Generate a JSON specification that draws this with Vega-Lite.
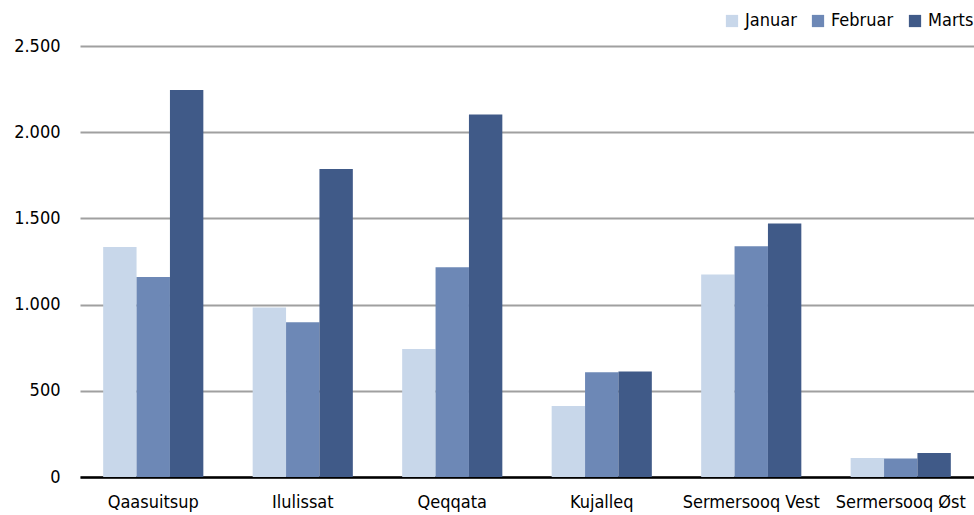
{
  "$schema": "https://vega.github.io/schema/vega-lite/v6.json",
  "autosize": {"type": "none"},
  "padding": {"left": 80, "top": 46, "right": 0, "bottom": 38},
  "width": 894,
  "height": 431,
  "background": "white",
  "config": {
    "view": {"stroke": null},
    "font": "DejaVu Sans Condensed, Roboto, sans-serif",
    "axis": {"labelFont": "DejaVu Sans Condensed, Roboto, sans-serif", "labelFontSize": 18, "labelColor": "#000000"},
    "legend": {"labelFont": "DejaVu Sans Condensed, Roboto, sans-serif", "labelFontSize": 18, "labelColor": "#000000"}
  },
  "data": {
    "values": [
      {"region": "Qaasuitsup", "month": "Januar", "value": 1334},
      {"region": "Qaasuitsup", "month": "Februar", "value": 1160},
      {"region": "Qaasuitsup", "month": "Marts", "value": 2245},
      {"region": "Ilulissat", "month": "Januar", "value": 983},
      {"region": "Ilulissat", "month": "Februar", "value": 897},
      {"region": "Ilulissat", "month": "Marts", "value": 1786},
      {"region": "Qeqqata", "month": "Januar", "value": 742},
      {"region": "Qeqqata", "month": "Februar", "value": 1216},
      {"region": "Qeqqata", "month": "Marts", "value": 2103},
      {"region": "Kujalleq", "month": "Januar", "value": 412},
      {"region": "Kujalleq", "month": "Februar", "value": 607},
      {"region": "Kujalleq", "month": "Marts", "value": 612},
      {"region": "Sermersooq Vest", "month": "Januar", "value": 1175},
      {"region": "Sermersooq Vest", "month": "Februar", "value": 1338},
      {"region": "Sermersooq Vest", "month": "Marts", "value": 1471},
      {"region": "Sermersooq Øst", "month": "Januar", "value": 110},
      {"region": "Sermersooq Øst", "month": "Februar", "value": 107},
      {"region": "Sermersooq Øst", "month": "Marts", "value": 139}
    ]
  },
  "mark": {"type": "bar"},
  "encoding": {
    "x": {
      "field": "region",
      "type": "nominal",
      "sort": null,
      "title": null,
      "scale": {"paddingInner": 0.33, "paddingOuter": 0.155},
      "axis": {"labelAngle": 0, "ticks": false, "domainColor": "#000000", "domainWidth": 2.5, "labelPadding": 16, "grid": false}
    },
    "xOffset": {"field": "month", "type": "nominal", "sort": ["Januar", "Februar", "Marts"], "scale": {"paddingInner": 0, "paddingOuter": 0}},
    "y": {
      "field": "value",
      "type": "quantitative",
      "title": null,
      "scale": {"domain": [0, 2500], "nice": false},
      "axis": {
        "values": [0, 500, 1000, 1500, 2000, 2500],
        "format": ",d",
        "labelExpr": "replace(datum.label, ',', '.')",
        "ticks": false,
        "domain": false,
        "labelPadding": 20,
        "gridColor": "#a0a0a0",
        "gridWidth": 2,
        "zindex": 0
      }
    },
    "color": {
      "field": "month",
      "type": "nominal",
      "sort": ["Januar", "Februar", "Marts"],
      "scale": {"domain": ["Januar", "Februar", "Marts"], "range": ["#C8D7EA", "#6D88B6", "#405A88"]},
      "legend": {
        "title": null,
        "orient": "none",
        "direction": "horizontal",
        "legendX": 643,
        "legendY": -34,
        "symbolType": "square",
        "symbolSize": 150,
        "symbolStrokeWidth": 0,
        "columnPadding": 12,
        "labelOffset": 4
      }
    }
  }
}
